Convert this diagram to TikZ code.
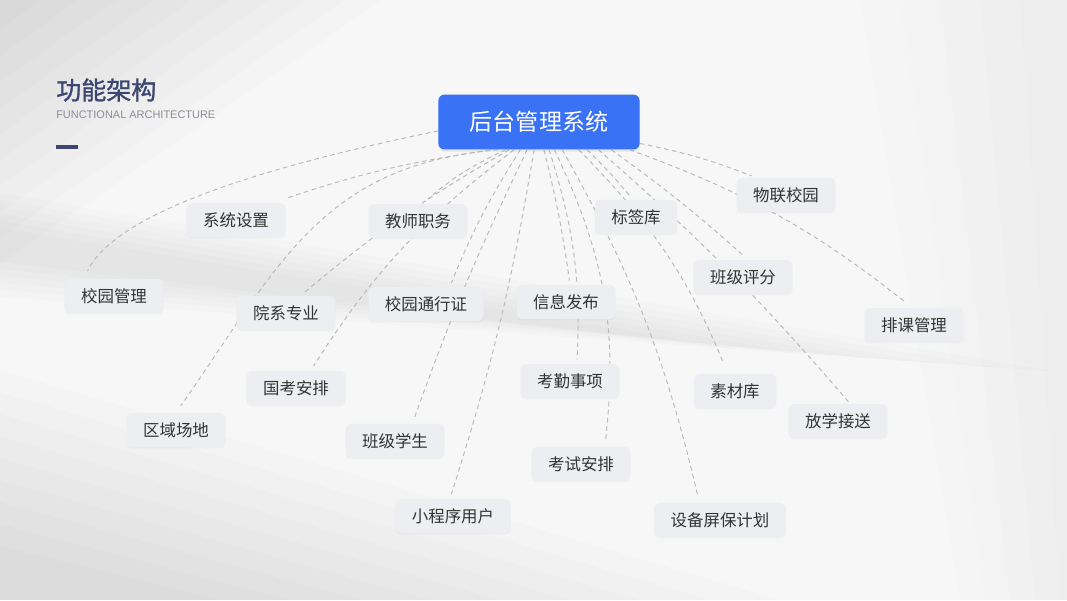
\documentclass[tikz,border=0pt]{standalone}
\usepackage{fontspec}
\setmainfont{Noto Sans CJK SC}
\newfontfamily\titlefont[FakeBold=1.2]{Noto Sans CJK SC}
\newfontfamily\latinfont{Liberation Sans}
\usetikzlibrary{shadows}

\definecolor{hubblue}{HTML}{3A72F6}
\definecolor{boxgray}{HTML}{EDEEF1}
\definecolor{titlenavy}{HTML}{3D4670}
\definecolor{linkgray}{HTML}{BABABA}
\definecolor{txtgray}{HTML}{333333}
\definecolor{subgray}{HTML}{8A8E97}
\definecolor{paper}{HTML}{F7F7F7}

\pgfdeclarelayer{bg}
\pgfdeclarelayer{links}
\pgfsetlayers{bg,links,main}

\begin{document}
\begin{tikzpicture}[x=0.025cm,y=-0.025cm,
  hub/.style={rectangle,rounded corners=4.5pt,fill=hubblue,text=white,
    font=\fontsize{16.4pt}{19pt}\selectfont,inner xsep=22.4pt,inner ysep=0pt,
    minimum height=39.1pt,drop shadow={opacity=0.12,fill=hubblue,shadow xshift=0pt,shadow yshift=-1.5pt}},
  sub/.style={rectangle,rounded corners=3.5pt,fill=boxgray,text=txtgray,
    font=\fontsize{11.7pt}{14pt}\selectfont,inner xsep=11.7pt,inner ysep=0pt,
    minimum height=24.2pt,drop shadow={opacity=0.06,shadow xshift=0pt,shadow yshift=-1pt}},
  link/.style={draw=linkgray,line width=0.7pt,dash pattern=on 3.2pt off 2.6pt},
  haze/.style={fill=black,opacity=0.011}]

\useasboundingbox (0,0) rectangle (1067,600);

% background
\begin{pgfonlayer}{bg}
\clip (0,0) rectangle (1067,600);
\fill[paper] (0,0) rectangle (1067,600);
\foreach \s in {0,...,9}
  \fill[haze] (0,0) -- ({40+38*\s},0) -- (0,{30+26*\s}) -- cycle;
\foreach \s in {0,...,5}
  \fill[haze] (0,{228-7*\s}) -- (0,{262+7*\s}) -- ({760+60*\s},{352+4*\s}) -- cycle;
\foreach \s in {0,...,8}
  \fill[haze] (0,{370+22*\s}) -- ({780-70*\s},600) -- (0,600) -- cycle;
\foreach \s in {0,...,4}
  \fill[black,opacity=0.008] ({860+40*\s},0) -- (1067,0) -- (1067,600) -- ({960+25*\s},600) -- cycle;
\end{pgfonlayer}

% title
\node[anchor=west,inner sep=0pt,text=titlenavy,font=\titlefont\fontsize{17.8pt}{20pt}\selectfont] (T1) at (56,90) {功能架构};
\node[anchor=west,inner sep=0pt,text=subgray,font=\latinfont\fontsize{7.8pt}{9pt}\selectfont] (T2) at (56,115) {FUNCTIONAL ARCHITECTURE};
\draw[titlenavy,line width=2.2pt] (56,147) -- (78,147);

% nodes
\node[hub] (R) at (539,122) {后台管理系统};
\node[sub] (A) at (114,296) {校园管理};
\node[sub] (B) at (236,220) {系统设置};
\node[sub] (C) at (418,221) {教师职务};
\node[sub] (D) at (286,313) {院系专业};
\node[sub] (E) at (176,430) {区域场地};
\node[sub] (F) at (296,388) {国考安排};
\node[sub] (G) at (426,304) {校园通行证};
\node[sub] (H) at (395,441) {班级学生};
\node[sub] (I) at (453,516) {小程序用户};
\node[sub] (J) at (566,302) {信息发布};
\node[sub] (K) at (570,381) {考勤事项};
\node[sub] (L) at (581,464) {考试安排};
\node[sub] (M) at (720,520) {设备屏保计划};
\node[sub] (N) at (636,217) {标签库};
\node[sub] (O) at (735,391) {素材库};
\node[sub] (P) at (743,277) {班级评分};
\node[sub] (Q) at (838,421) {放学接送};
\node[sub] (S) at (914,325) {排课管理};
\node[sub] (U) at (786,195) {物联校园};

% links
\begin{pgfonlayer}{links}
\draw[link,shorten >=6pt] (R.185) to[out=192,in=65,looseness=0.6] (A.150);
\draw[link,shorten >=9pt] (R.-150) to[bend right=5] (B.25);
\draw[link,shorten >=5pt] (R.-140) to[bend right=8] (C.75);
\draw[link,shorten >=3.5pt] (R.-137) to[bend right=5] (D.50);
\draw[link,shorten >=6pt] (R.-146) to[out=185,in=55,looseness=1.1] (E.90);
\draw[link,shorten >=4pt] (R.-132) to[bend right=10] (F.50);
\draw[link,shorten >=3pt] (R.-124) to[bend right=5] (G.36);
\draw[link,shorten >=5pt] (R.-113) to[bend right=3] (H.45);
\draw[link,shorten >=3.5pt] (R.-100) to[bend left=4] (I.100);
\draw[link,shorten >=3pt] (R.-80) to[bend left=3] (J.77);
\draw[link,shorten >=3pt] (R.-70) to[bend left=10] (K.68);
\draw[link,shorten >=5pt] (R.-61) to[bend left=16] (L.36);
\draw[link,shorten >=5pt] (R.-50) to[bend left=8] (M.140);
\draw[link,shorten >=3.5pt] (R.-30) to[bend left=3] (N.100);
\draw[link,shorten >=8.5pt] (R.-35) to[bend left=11] (O.112);
\draw[link,shorten >=4pt] (R.-21) to[bend left=3] (P.74);
\draw[link,shorten >=1.5pt] (R.-25) to[bend left=4] (Q.55);
\draw[link,shorten >=7pt] (R.-17) to[bend left=9] (S.95);
\draw[link,shorten >=3.5pt] (R.-12.8) to[bend left=5] (U.150);
\end{pgfonlayer}
\end{tikzpicture}
\end{document}
